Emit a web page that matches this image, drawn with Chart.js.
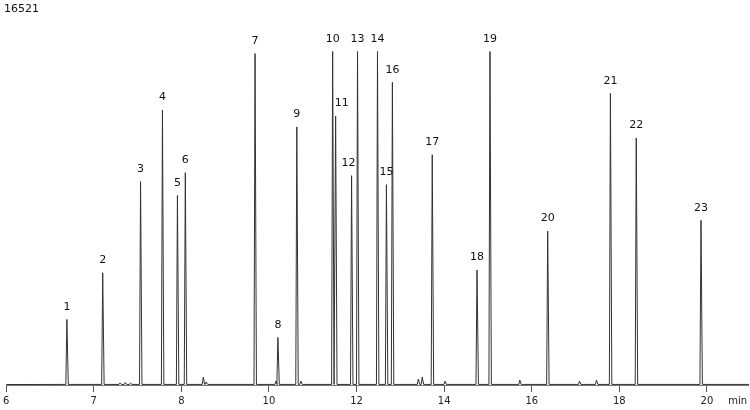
<!DOCTYPE html>
<html>
<head>
<meta charset="utf-8">
<script src="https://cdn.jsdelivr.net/npm/chart.js@4/dist/chart.umd.min.js"></script>
<style>
  html, body { margin: 0; padding: 0; background: #fff; }
  #wrap { width: 750px; height: 410px; position: relative; }
</style>
</head>
<body>
<div id="wrap"><canvas id="c"></canvas></div>
<script>
// axis positions are in tick units (tick i = tickLabels[i]), as printed on the plot
const tickLabels = ['6', '7', '8', '10', '12', '14', '16', '18', '20'];
const yMax = 16521;

// numbered peaks
const peakNames = ['1','2','3','4','5','6','7','8','9','10','11','12','13','14','15','16','17','18','19','20','21','22','23'];
const peakPos = [0.693, 1.102, 1.534, 1.784, 1.955, 2.045, 2.841, 3.102, 3.318, 3.727, 3.761, 3.943,
                 4.011, 4.239, 4.341, 4.409, 4.864, 5.375, 5.523, 6.182, 6.898, 7.193, 7.932];
const peakHeight = [2850, 4880, 8840, 11950, 8240, 9230, 14410, 2070, 11220, 14500, 11690, 9100,
                    14500, 14500, 8710, 13160, 10010, 5000, 14500, 6690, 12680, 10740, 7160];

// small unlabelled peaks
const minorPos = [1.30, 1.36, 1.42, 2.25, 2.284, 3.08, 3.364, 4.705, 4.75, 5.01, 5.864, 6.545, 6.739];
const minorHeight = [90, 110, 80, 345, 130, 170, 170, 260, 345, 170, 215, 170, 215];

const trace = [];
const all = peakPos.map((p, i) => [p, peakHeight[i]])
  .concat(minorPos.map((p, i) => [p, minorHeight[i]]))
  .sort((a, b) => a[0] - b[0]);
trace.push({ x: 0, y: 20 });
all.forEach(([p, h]) => {
  trace.push({ x: p - 0.012, y: 25 });
  trace.push({ x: p, y: h });
  trace.push({ x: p + 0.016, y: 25 });
});
trace.push({ x: 8.48, y: 25 });

const peakLabels = {
  id: 'peakLabels',
  afterDatasetsDraw(chart) {
    const { ctx, scales: { x, y } } = chart;
    ctx.save();
    ctx.font = '11px "DejaVu Sans"';
    ctx.fillStyle = '#111';
    ctx.textAlign = 'center';
    ctx.textBaseline = 'bottom';
    peakNames.forEach((n, i) => {
      let dx = 0;
      if (n === '11') dx = 6;
      if (n === '12') dx = -3;
      ctx.fillText(n, x.getPixelForValue(peakPos[i]) + dx, y.getPixelForValue(peakHeight[i]) - 7);
    });
    ctx.textAlign = 'left';
    ctx.textBaseline = 'top';
    ctx.fillText(String(yMax), 4, 4);
    ctx.restore();
  }
};

new Chart(document.getElementById('c'), {
  type: 'line',
  data: {
    datasets: [{
      data: trace,
      borderColor: '#333',
      borderWidth: 1,
      pointRadius: 0,
      tension: 0,
      fill: false
    }]
  },
  options: {
    responsive: true,
    maintainAspectRatio: false,
    animation: false,
    layout: { padding: { top: 5, left: 4, right: 0, bottom: 0 } },
    plugins: { legend: { display: false }, tooltip: { enabled: false } },
    scales: {
      x: {
        type: 'linear',
        min: 0,
        max: 8.48,
        afterBuildTicks(axis) {
          axis.ticks = tickLabels.map((t, i) => ({ value: i })).concat([{ value: 8.35 }]);
        },
        ticks: {
          autoSkip: false,
          maxRotation: 0,
          padding: 3,
          color: '#222',
          font: { family: 'DejaVu Sans', size: 10 },
          callback: (v) => (v > 8.2 ? 'min' : tickLabels[Math.round(v)])
        },
        grid: {
          drawOnChartArea: false,
          tickLength: 7,
          color: (c) => (c.tick && c.tick.value > 8.2 ? 'rgba(0,0,0,0)' : '#555')
        },
        border: { color: '#777' }
      },
      y: { display: false, min: 0, max: yMax }
    }
  },
  plugins: [peakLabels]
});
</script>
</body>
</html>
